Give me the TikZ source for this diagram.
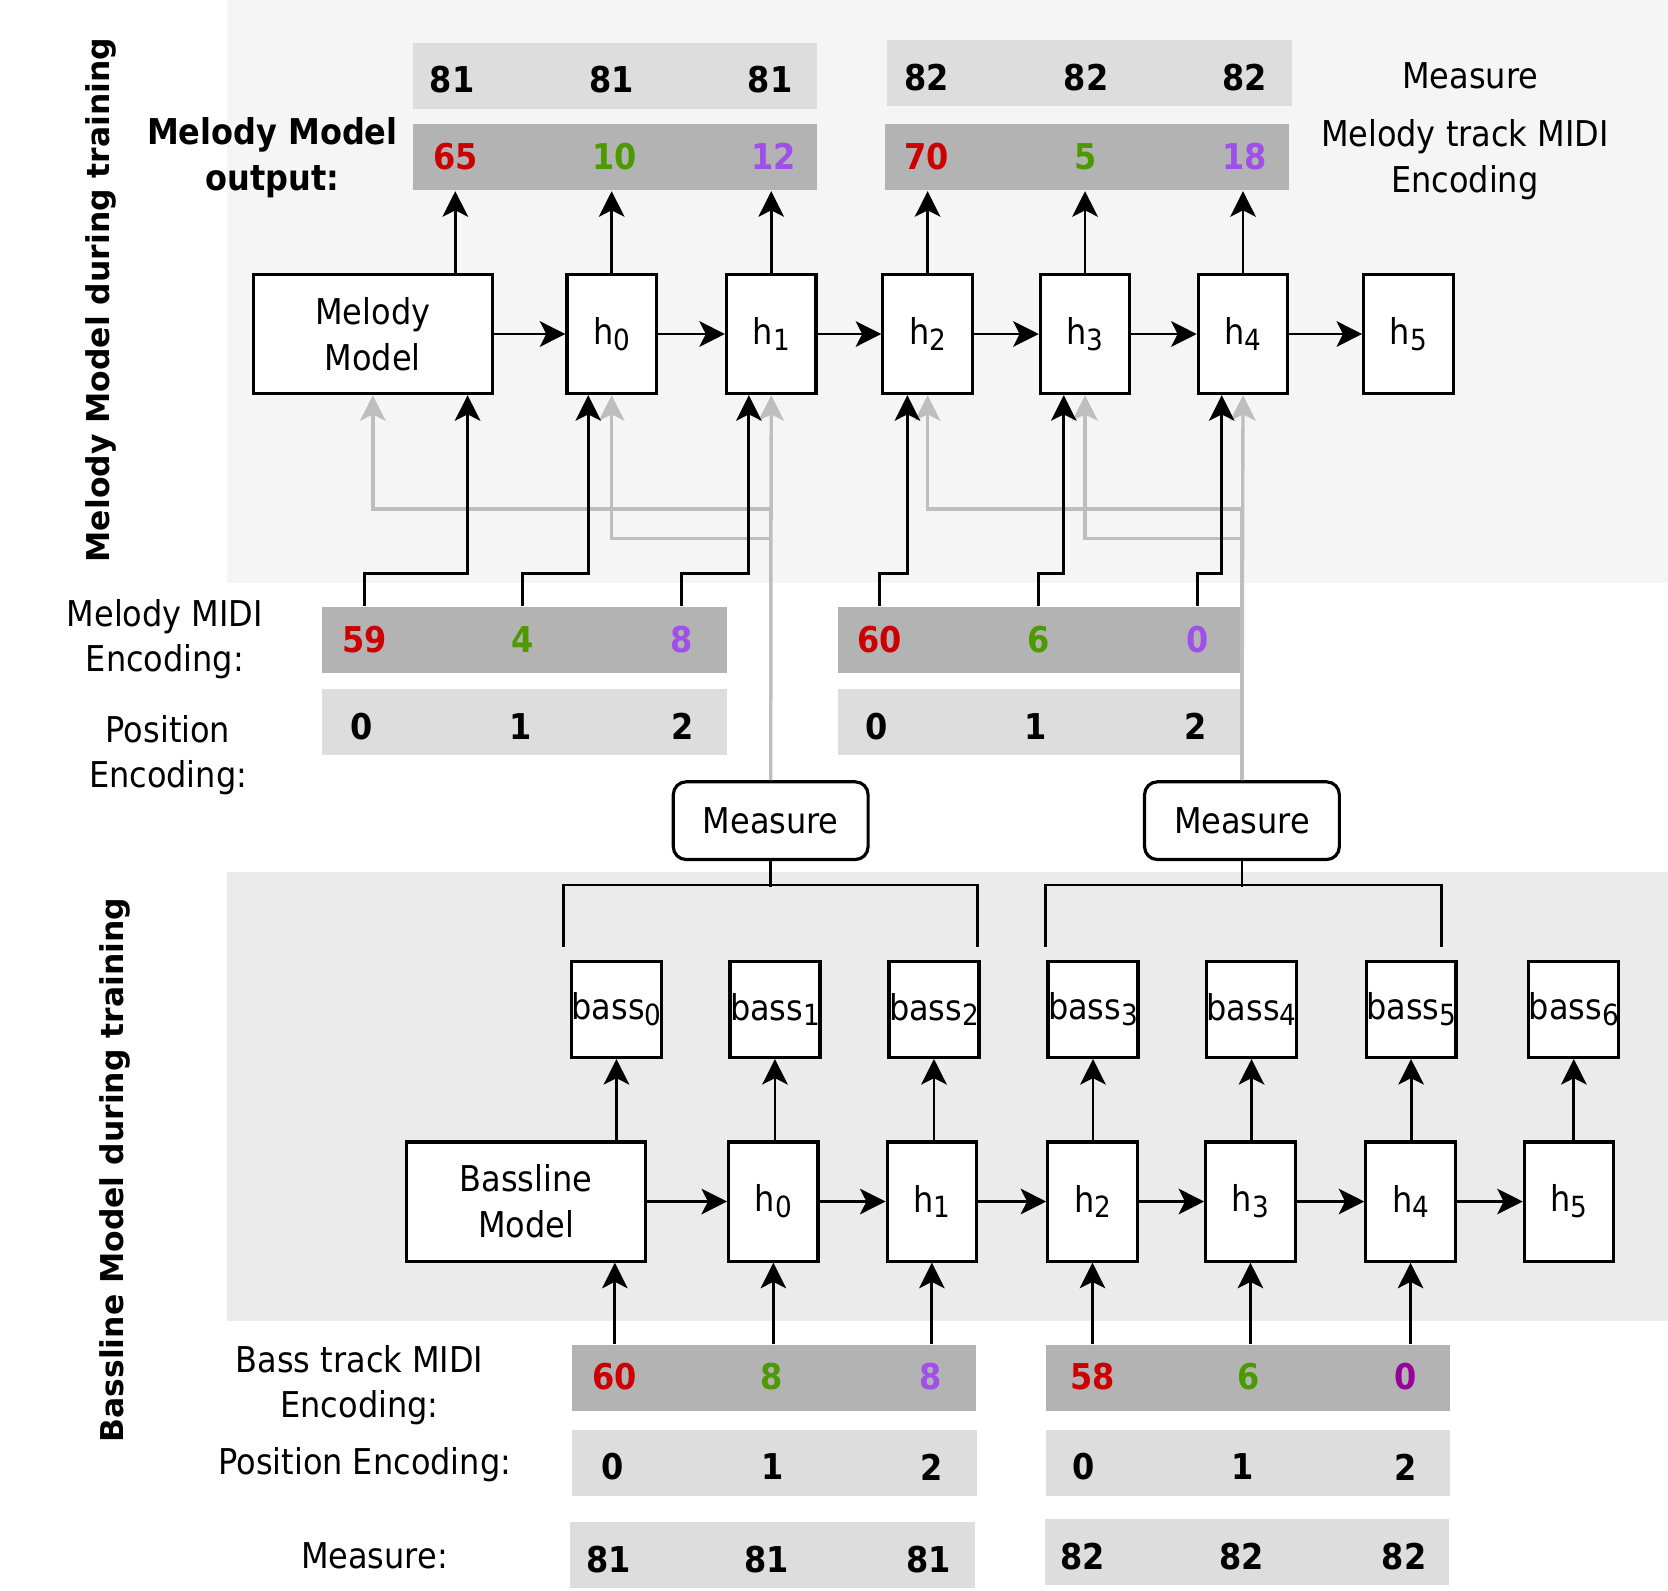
\documentclass[tikz,border=0pt]{standalone}
\usepackage{fontspec}
\setmainfont{DejaVu Sans Condensed}
\newfontfamily\sidefont{DejaVu Sans}
\usetikzlibrary{arrows.meta}
\definecolor{panelA}{HTML}{F5F5F5}
\definecolor{panelB}{HTML}{EBEBEB}
\definecolor{rowlight}{HTML}{DDDDDD}
\definecolor{rowdark}{HTML}{B3B3B3}
\definecolor{lineg}{HTML}{BEBEBE}
\definecolor{nred}{HTML}{CC0000}
\definecolor{ngreen}{HTML}{4D9900}
\definecolor{npurple}{HTML}{9E50E8}
\definecolor{ndpurple}{HTML}{990099}
\newcommand{\lowidx}[1]{\raisebox{-0.3ex}{\fontsize{7.8}{8}\selectfont #1}}
\begin{document}
\begin{tikzpicture}[x=0.01cm,y=-0.01cm,font=\fontsize{9.5}{12.2}\selectfont,
    every node/.style={inner sep=1pt},
    cell/.style={draw,line width=0.85pt,fill=white,minimum width=0.84cm,minimum height=1.12cm,inner sep=0pt},
    wide/.style={cell,minimum width=2.25cm,align=center},
    bassbox/.style={cell,minimum height=0.9cm},
    row/.style={fill=#1,minimum width=3.8cm,minimum height=0.62cm,inner sep=0pt},
    num/.style={font=\fontsize{9.5}{12}\selectfont\bfseries,text=#1},
    num/.default=black,
    arr/.style={-{Stealth[length=0.24cm,width=0.24cm,inset=0.06cm]},line width=0.75pt},
    garr/.style={arr,draw=lineg,line width=0.9pt},
    measbox/.style={draw,line width=0.85pt,rounded corners=0.12cm,minimum width=1.83cm,minimum height=0.73cm}]
    \useasboundingbox (0,0) rectangle (1568,1495);
    % panels
    \fill[panelA] (213,0) rectangle (1568,548);
    \fill[panelB] (213,820) rectangle (1568,1242);
    \node[rotate=90,font=\sidefont\fontsize{8.4}{10}\selectfont\bfseries] (toplab) at (95,282) {Melody Model during training};
    \node[rotate=90,font=\sidefont\fontsize{8.4}{10}\selectfont\bfseries] (botlab) at (108,1100) {Bassline Model during training};

    % melody model: output rows
    \node[row=rowlight] (measL) at (578,71) {};
    \node[row=rowlight] (measR) at (1024,69) {};
    \node[row=rowdark] (outL) at (578,148) {};
    \node[row=rowdark] (outR) at (1022,148) {};
    \node[num] (m81a) at (425,75) {81};
    \node[num] (m81b) at (575,75) {81};
    \node[num] (m81c) at (724,75) {81};
    \node[num] (m82a) at (871,73) {82};
    \node[num] (m82b) at (1021,73) {82};
    \node[num] (m82c) at (1170,73) {82};
    \node[num=nred] (o65) at (428,147) {65};
    \node[num=ngreen] (o10) at (578,147) {10};
    \node[num=npurple] (o12) at (727,147) {12};
    \node[num=nred] (o70) at (871,147) {70};
    \node[num=ngreen] (o5) at (1021,147) {5};
    \node[num=npurple] (o18) at (1170,147) {18};
    \node (measlab) at (1382,71) {Measure};
    \node[align=center] (enclab) at (1377,150) {Melody track MIDI\\Encoding};
    \node[align=center,font=\fontsize{9.5}{12.2}\selectfont\bfseries] (outlab) at (256,148) {Melody Model\\output:};

    % melody model: cells
    \node[wide] (mm) at (350.5,314) {Melody\\Model};
    \node[cell] (mh0) at (575,314) {h\lowidx{0}};
    \node[cell] (mh1) at (725,314) {h\lowidx{1}};
    \node[cell] (mh2) at (872,314) {h\lowidx{2}};
    \node[cell] (mh3) at (1020,314) {h\lowidx{3}};
    \node[cell] (mh4) at (1168.5,314) {h\lowidx{4}};
    \node[cell] (mh5) at (1324,314) {h\lowidx{5}};
    \draw[arr] (mm) -- (mh0);
    \draw[arr] (mh0) -- (mh1);
    \draw[arr] (mh1) -- (mh2);
    \draw[arr] (mh2) -- (mh3);
    \draw[arr] (mh3) -- (mh4);
    \draw[arr] (mh4) -- (mh5);
    \draw[arr] (o65 |- mm.north) -- (o65 |- outL.south);
    \draw[arr] (mh0.north) -- (mh0.north |- outL.south);
    \draw[arr] (mh1.north) -- (mh1.north |- outL.south);
    \draw[arr] (mh2.north) -- (mh2.north |- outR.south);
    \draw[arr] (mh3.north) -- (mh3.north |- outR.south);
    \draw[arr] (mh4.north) -- (mh4.north |- outR.south);

    % melody model: inputs
    \node[row=rowdark] (midiL) at (493,601.5) {};
    \node[row=rowdark] (midiR) at (977.5,601.5) {};
    \node[row=rowlight] (posL) at (493,678.5) {};
    \node[row=rowlight] (posR) at (977.5,678.5) {};
    \node[num=nred] (n59) at (343,601) {59};
    \node[num=ngreen] (n4) at (491,601) {4};
    \node[num=npurple] (n8) at (641,601) {8};
    \node[num=nred] (n60) at (827,601) {60};
    \node[num=ngreen] (n6) at (976,601) {6};
    \node[num=npurple] (n0) at (1126,601) {0};
    \node[num] (p0a) at (340,683) {0};
    \node[num] (p1a) at (489,683) {1};
    \node[num] (p2a) at (642,683) {2};
    \node[num] (p0b) at (824,683) {0};
    \node[num] (p1b) at (974,683) {1};
    \node[num] (p2b) at (1124,683) {2};
    \node[align=center] (midilab) at (155,601) {Melody MIDI\\Encoding:};
    \node[align=center] (poslab) at (158,710) {Position\\Encoding:};

    \node[measbox] (meas1) at (724.5,771.5) {Measure};
    \node[measbox] (meas2) at (1167.5,771.5) {Measure};
    \draw[garr] (meas1.north) -- ++(0,-255) -| (mm.south);
    \draw[garr] (meas1.north) -- ++(0,-227) -| (mh0.south);
    \draw[garr] (meas1.north) -- (mh1.south);
    \draw[garr] (meas2.north) -- ++(0,-255) -| (mh2.south);
    \draw[garr] (meas2.north) -- ++(0,-227) -| (mh3.south);
    \draw[garr] (meas2.north) -- (mh4.south);
    \draw[arr] (n59 |- midiL.north) -- ++(0,-31) -| ([xshift=-0.25cm]mm.south east);
    \draw[arr] (n4 |- midiL.north) -- ++(0,-31) -| ([xshift=-0.22cm]mh0.south);
    \draw[arr] (n8 |- midiL.north) -- ++(0,-31) -| ([xshift=-0.21cm]mh1.south);
    \draw[arr] (n60 |- midiR.north) -- ++(0,-31) -| ([xshift=-0.19cm]mh2.south);
    \draw[arr] (n6 |- midiR.north) -- ++(0,-31) -| ([xshift=-0.2cm]mh3.south);
    \draw[arr] (n0 |- midiR.north) -- ++(0,-31) -| ([xshift=-0.2cm]mh4.south);

    % bassline model
    \coordinate (b1l) at (530,890);
    \coordinate (b1r) at (919,890);
    \coordinate (b2l) at (983,890);
    \coordinate (b2r) at (1355,890);
    \draw[line width=0.75pt] (meas1.south) -- ++(0,24);
    \draw[line width=0.75pt] (b1l) -- ++(0,-58) -| (b1r);
    \draw[line width=0.75pt] (meas2.south) -- ++(0,24);
    \draw[line width=0.75pt] (b2l) -- ++(0,-58) -| (b2r);

    \node[bassbox] (bass0) at (579.5,949) {bass\lowidx{0}};
    \node[bassbox] (bass1) at (728.5,949) {bass\lowidx{1}};
    \node[bassbox] (bass2) at (878,949) {bass\lowidx{2}};
    \node[bassbox] (bass3) at (1027.5,949) {bass\lowidx{3}};
    \node[bassbox] (bass4) at (1176.5,949) {bass\lowidx{4}};
    \node[bassbox] (bass5) at (1326.5,949) {bass\lowidx{5}};
    \node[bassbox] (bass6) at (1479.5,949) {bass\lowidx{6}};

    \node[wide] (bm) at (494.5,1129.5) {Bassline\\Model};
    \node[cell] (hb0) at (727,1129.5) {h\lowidx{0}};
    \node[cell] (hb1) at (876,1129.5) {h\lowidx{1}};
    \node[cell] (hb2) at (1027,1129.5) {h\lowidx{2}};
    \node[cell] (hb3) at (1175.5,1129.5) {h\lowidx{3}};
    \node[cell] (hb4) at (1326,1129.5) {h\lowidx{4}};
    \node[cell] (hb5) at (1475,1129.5) {h\lowidx{5}};
    \draw[arr] (bm) -- (hb0);
    \draw[arr] (hb0) -- (hb1);
    \draw[arr] (hb1) -- (hb2);
    \draw[arr] (hb2) -- (hb3);
    \draw[arr] (hb3) -- (hb4);
    \draw[arr] (hb4) -- (hb5);
    \draw[arr] (bass0.south |- bm.north) -- (bass0.south);
    \draw[arr] (bass1.south |- hb0.north) -- (bass1.south);
    \draw[arr] (bass2.south |- hb1.north) -- (bass2.south);
    \draw[arr] (bass3.south |- hb2.north) -- (bass3.south);
    \draw[arr] (bass4.south |- hb3.north) -- (bass4.south);
    \draw[arr] (bass5.south |- hb4.north) -- (bass5.south);
    \draw[arr] (bass6.south |- hb5.north) -- (bass6.south);

    % bassline model: inputs
    \node[row=rowdark] (bmidiL) at (727.5,1295.5) {};
    \node[row=rowdark] (bmidiR) at (1173,1295.5) {};
    \node[row=rowlight] (bposL) at (728,1375) {};
    \node[row=rowlight] (bposR) at (1173,1375) {};
    \node[row=rowlight] (bmeasL) at (726,1462) {};
    \node[row=rowlight] (bmeasR) at (1172,1458.5) {};
    \node[num=nred] (b60) at (578,1294) {60};
    \node[num=ngreen] (b8a) at (725,1294) {8};
    \node[num=npurple] (b8b) at (875,1294) {8};
    \node[num=nred] (b58) at (1027,1294) {58};
    \node[num=ngreen] (b6) at (1174,1294) {6};
    \node[num=ndpurple] (b0) at (1321,1294) {0};
    \node[num] (q0a) at (576,1379) {0};
    \node[num] (q1a) at (726,1379) {1};
    \node[num] (q2a) at (876,1379) {2};
    \node[num] (q0b) at (1019,1379) {0};
    \node[num] (q1b) at (1168,1379) {1};
    \node[num] (q2b) at (1321,1379) {2};
    \node[num] (r81a) at (572,1466) {81};
    \node[num] (r81b) at (721,1466) {81};
    \node[num] (r81c) at (873,1466) {81};
    \node[num] (r82a) at (1018,1463) {82};
    \node[num] (r82b) at (1167,1463) {82};
    \node[num] (r82c) at (1320,1463) {82};
    \node[align=center] (bmidilab) at (338,1302) {Bass track MIDI\\Encoding:};
    \node (bposlab) at (343,1377) {Position Encoding:};
    \node (bmeaslab) at (352,1463) {Measure:};
    \draw[arr] (b60 |- bmidiL.north) -- (b60 |- bm.south);
    \draw[arr] (hb0.south |- bmidiL.north) -- (hb0.south);
    \draw[arr] (hb1.south |- bmidiL.north) -- (hb1.south);
    \draw[arr] (hb2.south |- bmidiR.north) -- (hb2.south);
    \draw[arr] (hb3.south |- bmidiR.north) -- (hb3.south);
    \draw[arr] (hb4.south |- bmidiR.north) -- (hb4.south);
\end{tikzpicture}
\end{document}
